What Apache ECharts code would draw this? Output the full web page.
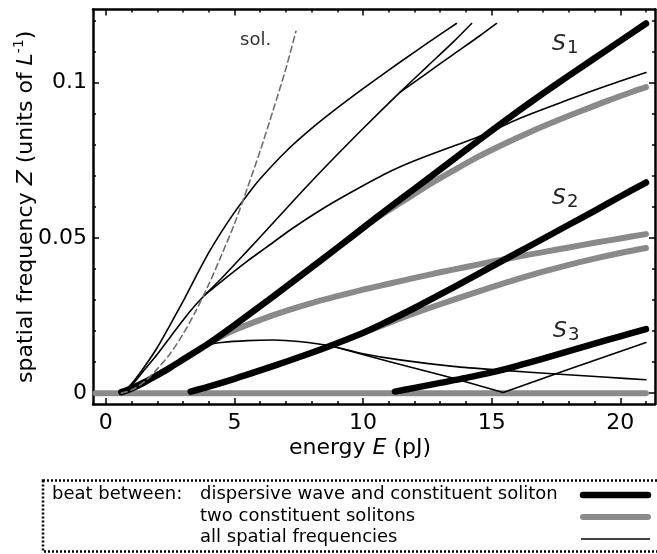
<!DOCTYPE html>
<html><head><meta charset="utf-8">
<script src="https://cdn.jsdelivr.net/npm/echarts@6/dist/echarts.min.js"></script>
<style>html,body{margin:0;padding:0;background:#fff}#c{width:657px;height:554px}</style>
</head><body><div id="c"></div>
<script>
// ---- axis ticks / labels ----
const xMajorTicks = [0, 5, 10, 15, 20];
const xMinorTicks = [1, 2, 3, 4, 6, 7, 8, 9, 11, 12, 13, 14, 16, 17, 18, 19, 21];
const yMajorTicks = [0, 0.05, 0.1];
const yMinorTicks = [0.01, 0.02, 0.03, 0.04, 0.06, 0.07, 0.08, 0.09, 0.11, 0.12];
const yTickLabels = ['0', '0.05', '0.1'];

// ---- thick black: dispersive wave and constituent soliton (S1, S2, S3) ----
const s1E = [0.6, 1, 1.5, 2, 2.5, 3, 3.5, 4, 5, 6, 7, 8, 9, 10, 11, 12, 13, 14, 15, 16, 17, 18, 19, 20, 21];
const s1Z = [0.0003, 0.0015, 0.0035, 0.0058, 0.0082, 0.0108, 0.0134, 0.016, 0.0219, 0.028, 0.0342, 0.0405, 0.0468, 0.0532, 0.0596, 0.0658, 0.072, 0.0783, 0.0845, 0.0906, 0.0965, 0.1022, 0.1078, 0.1134, 0.119];
const s2E = [3.3, 4, 5, 6, 7, 8, 8.84, 10, 11, 12, 13, 14, 15, 16, 17, 18, 19, 20, 21];
const s2Z = [0.0005, 0.0021, 0.0046, 0.0073, 0.0101, 0.013, 0.0156, 0.0194, 0.0233, 0.0274, 0.0318, 0.0362, 0.0407, 0.0452, 0.0497, 0.0542, 0.0587, 0.0633, 0.0678];
const s3E = [11.24, 12, 13, 14, 15, 16, 17, 18, 19, 20, 21];
const s3Z = [0.0005, 0.0017, 0.0033, 0.0049, 0.0067, 0.0088, 0.0111, 0.0135, 0.0159, 0.0183, 0.0206];

// ---- thick gray: two constituent solitons ----
const g0E = [-0.4, 21];
const g0Z = [0, 0];
const g1E = [9.5, 10.5, 11.5, 12.5, 13.5, 14.5, 15.5, 16.5, 17.5, 18.5, 19.5, 20.5, 21];
const g1Z = [0.05, 0.0562, 0.0615, 0.0668, 0.0716, 0.0762, 0.0803, 0.0841, 0.0876, 0.0909, 0.0941, 0.0971, 0.0985];
const g2E = [4, 4.5, 5, 6, 7, 8, 9, 10, 11, 12, 13, 14, 15, 16, 17, 18, 19, 20, 21];
const g2Z = [0.016, 0.0183, 0.0203, 0.0236, 0.0265, 0.029, 0.0312, 0.0333, 0.0352, 0.0371, 0.0389, 0.0406, 0.0423, 0.0439, 0.0454, 0.0469, 0.0484, 0.0498, 0.0512];
const g3E = [9.3, 10, 11, 12, 13, 14, 15, 16, 17, 18, 19, 20, 21];
const g3Z = [0.017, 0.0194, 0.0226, 0.0257, 0.0286, 0.0314, 0.0341, 0.0367, 0.0391, 0.0413, 0.0433, 0.0451, 0.0467];

// ---- thin black: all spatial frequencies ----
const aE = [0.6, 1, 1.5, 2, 2.5, 3, 3.5, 4, 4.5, 5, 5.5, 6, 7, 8, 9, 10, 11, 12, 13, 13.63];
const aZ = [0, 0.003, 0.0085, 0.0147, 0.022, 0.0295, 0.0375, 0.0452, 0.052, 0.0582, 0.0638, 0.069, 0.0778, 0.0852, 0.0918, 0.098, 0.104, 0.1098, 0.1155, 0.119];
const bE = [0.6, 1, 1.5, 2, 2.5, 3, 3.5, 3.85, 4.5, 5.5, 6.25, 7, 8, 9, 10, 11.43, 12.5, 13.5, 14.22];
const bZ = [0, 0.0025, 0.0075, 0.0125, 0.018, 0.0235, 0.0285, 0.0316, 0.037, 0.0458, 0.0525, 0.0593, 0.0682, 0.0768, 0.0852, 0.0968, 0.1052, 0.113, 0.119];
const cE = [11.43, 12.5, 13.5, 14.5, 15.19];
const cZ = [0.0968, 0.1031, 0.109, 0.1148, 0.119];
const dE = [3.85, 4.5, 5.5, 6.25, 7.25, 8.32, 9.5, 10.91, 12, 13.5, 14.67, 16.1, 18, 19.5, 21];
const dZ = [0.0316, 0.036, 0.0425, 0.047, 0.053, 0.0588, 0.0645, 0.0708, 0.0748, 0.0795, 0.0831, 0.0885, 0.0945, 0.099, 0.1032];
const hE = [3.9, 4.5, 5.5, 6.5, 7.5, 8.84, 10, 11.43, 13.5, 15.32, 17.65, 19.5, 21];
const hZ = [0.0155, 0.0163, 0.0169, 0.0171, 0.0166, 0.015, 0.0127, 0.0107, 0.0086, 0.0074, 0.0061, 0.0051, 0.0043];
const vE = [8.84, 11, 13.4, 15.45, 18, 21];
const vZ = [0.015, 0.0102, 0.005, 0.0002, 0.0077, 0.0163];

// ---- dashed: soliton ----
const solE = [0.6, 1, 1.5, 2, 2.5, 3, 3.5, 4, 4.5, 5, 5.5, 6, 6.5, 7, 7.39];
const solZ = [0, 0.001, 0.0037, 0.0078, 0.0127, 0.019, 0.0265, 0.035, 0.0445, 0.0545, 0.066, 0.078, 0.091, 0.1045, 0.1165];

const legendTexts = ['dispersive wave and constituent soliton', 'two constituent solitons', 'all spatial frequencies'];

const FONT = 'DejaVu Sans';
const BLACK = '#000';
const GRAY = '#8a8a8a';

function pairs(E, Z) { return E.map((e, i) => [e, Z[i]]); }
function line(E, Z, color, width, opts) {
  opts = opts || {};
  return {
    type: 'line', data: pairs(E, Z), symbol: 'none', showSymbol: false,
    smooth: opts.smooth === undefined ? 0.3 : opts.smooth,
    silent: true, animation: false,
    lineStyle: { color: color, width: width, cap: 'round', join: 'round', type: opts.dash || 'solid' },
    z: opts.z || 2
  };
}

const xRange = { min: -0.5, max: 21.35 };
const yRange = { min: -0.0035, max: 0.1235 };

function xAx(pos, ticks, len, showLine, showLabel) {
  return Object.assign({
    type: 'value', position: pos, splitLine: { show: false },
    axisLine: { show: showLine, onZero: false, lineStyle: { color: BLACK, width: 2.5 } },
    axisTick: { show: true, inside: true, length: len, customValues: ticks, lineStyle: { color: BLACK, width: 1.5 } },
    axisLabel: showLabel ? { show: true, customValues: ticks, margin: 8, fontSize: 22, fontFamily: FONT, color: BLACK } : { show: false }
  }, xRange);
}
function yAx(pos, ticks, len, showLine, showLabel) {
  return Object.assign({
    type: 'value', position: pos, splitLine: { show: false },
    axisLine: { show: showLine, onZero: false, lineStyle: { color: BLACK, width: 2.5 } },
    axisTick: { show: true, inside: true, length: len, customValues: ticks, lineStyle: { color: BLACK, width: 1.5 } },
    axisLabel: showLabel ? {
      show: true, customValues: ticks, margin: 6, fontSize: 22, fontFamily: FONT, color: BLACK,
      formatter: function (v) { const i = yMajorTicks.findIndex(t => Math.abs(t - v) < 1e-9); return i >= 0 ? yTickLabels[i] : ''; }
    } : { show: false }
  }, yRange);
}

function sLabel(x, y, n) {
  return { type: 'text', x: x, y: y, silent: true,
    style: { text: '{s|S}{b|' + n + '}', align: 'left', verticalAlign: 'middle',
      rich: { s: { fontSize: 22, fontStyle: 'italic', fontFamily: FONT, fill: '#222', lineHeight: 24, verticalAlign: 'top' },
              b: { fontSize: 18, fontFamily: FONT, fill: '#222', lineHeight: 18, padding: [9, 0, 0, 1], verticalAlign: 'bottom' } } } };
}

const chart = echarts.init(document.getElementById('c'), null, { renderer: 'canvas' });
chart.setOption({
  animation: false,
  backgroundColor: '#fff',
  grid: { left: 93, right: 2, top: 9.5, bottom: 150, containLabel: false },
  xAxis: [
    xAx('bottom', xMajorTicks, 6, true, true),
    xAx('bottom', xMinorTicks, 3, false, false),
    xAx('top', xMajorTicks, 6, true, false),
    xAx('top', xMinorTicks, 3, false, false)
  ],
  yAxis: [
    yAx('left', yMajorTicks, 6, true, true),
    yAx('left', yMinorTicks, 3, false, false),
    yAx('right', yMajorTicks, 6, true, false),
    yAx('right', yMinorTicks, 3, false, false)
  ],
  series: [
    line(g0E, g0Z, GRAY, 6, { smooth: false }),
    line(g1E, g1Z, GRAY, 6),
    line(g2E, g2Z, GRAY, 6),
    line(g3E, g3Z, GRAY, 6),
    line(s1E, s1Z, BLACK, 6.5),
    line(s2E, s2Z, BLACK, 6.5),
    line(s3E, s3Z, BLACK, 6.5),
    line(aE, aZ, BLACK, 1.6, { z: 3 }),
    line(bE, bZ, BLACK, 1.6, { z: 3 }),
    line(cE, cZ, BLACK, 1.6, { z: 3 }),
    line(dE, dZ, BLACK, 1.6, { z: 3 }),
    line(hE, hZ, BLACK, 1.6, { z: 3 }),
    line(vE, vZ, BLACK, 1.6, { z: 3, smooth: false }),
    line(solE, solZ, '#6e6e6e', 1.6, { z: 4, dash: [6, 4] })
  ],
  graphic: [
    { type: 'text', x: 26, y: 206.75, rotation: Math.PI / 2, silent: true,
      style: { text: 'spatial frequency {i|Z} (units of {i|L}{sup|-1})', fontSize: 22, fontFamily: FONT, fill: BLACK, align: 'center', verticalAlign: 'middle', lineHeight: 28,
        rich: { i: { fontSize: 22, fontStyle: 'italic', fontFamily: FONT, fill: BLACK, lineHeight: 28 },
                sup: { fontSize: 14, fontFamily: FONT, fill: BLACK, lineHeight: 14, verticalAlign: 'top' } } } },
    { type: 'text', x: 360, y: 448, silent: true,
      style: { text: 'energy {i|E} (pJ)', fontSize: 22, fontFamily: FONT, fill: BLACK, align: 'center', verticalAlign: 'middle',
        rich: { i: { fontSize: 22, fontStyle: 'italic', fontFamily: FONT, fill: BLACK } } } },
    { type: 'text', x: 240, y: 40, silent: true,
      style: { text: 'sol.', fontSize: 18, fontFamily: FONT, fill: '#333', align: 'left', verticalAlign: 'middle' } },
    sLabel(552, 45, '1'),
    sLabel(552, 199, '2'),
    sLabel(553, 332, '3'),
    // legend box
    { type: 'rect', silent: true, shape: { x: 43, y: 480.5, width: 630, height: 71 },
      style: { fill: 'none', stroke: BLACK, lineWidth: 2.5, lineDash: [2, 2] } },
    { type: 'text', x: 52, y: 494, silent: true,
      style: { text: 'beat between:', fontSize: 18, fontFamily: FONT, fill: BLACK, align: 'left', verticalAlign: 'middle' } },
    { type: 'text', x: 200, y: 494, silent: true,
      style: { text: legendTexts[0], fontSize: 18, fontFamily: FONT, fill: BLACK, align: 'left', verticalAlign: 'middle' } },
    { type: 'text', x: 200, y: 516, silent: true,
      style: { text: legendTexts[1], fontSize: 18, fontFamily: FONT, fill: BLACK, align: 'left', verticalAlign: 'middle' } },
    { type: 'text', x: 200, y: 537, silent: true,
      style: { text: legendTexts[2], fontSize: 18, fontFamily: FONT, fill: BLACK, align: 'left', verticalAlign: 'middle' } },
    { type: 'line', silent: true, shape: { x1: 583, y1: 495, x2: 648, y2: 495 }, style: { stroke: BLACK, lineWidth: 6.5, lineCap: 'round' } },
    { type: 'line', silent: true, shape: { x1: 583, y1: 517, x2: 648, y2: 517 }, style: { stroke: GRAY, lineWidth: 6, lineCap: 'round' } },
    { type: 'line', silent: true, shape: { x1: 581, y1: 539, x2: 650, y2: 539 }, style: { stroke: BLACK, lineWidth: 1.6 } }
  ]
});
</script>
</body></html>
